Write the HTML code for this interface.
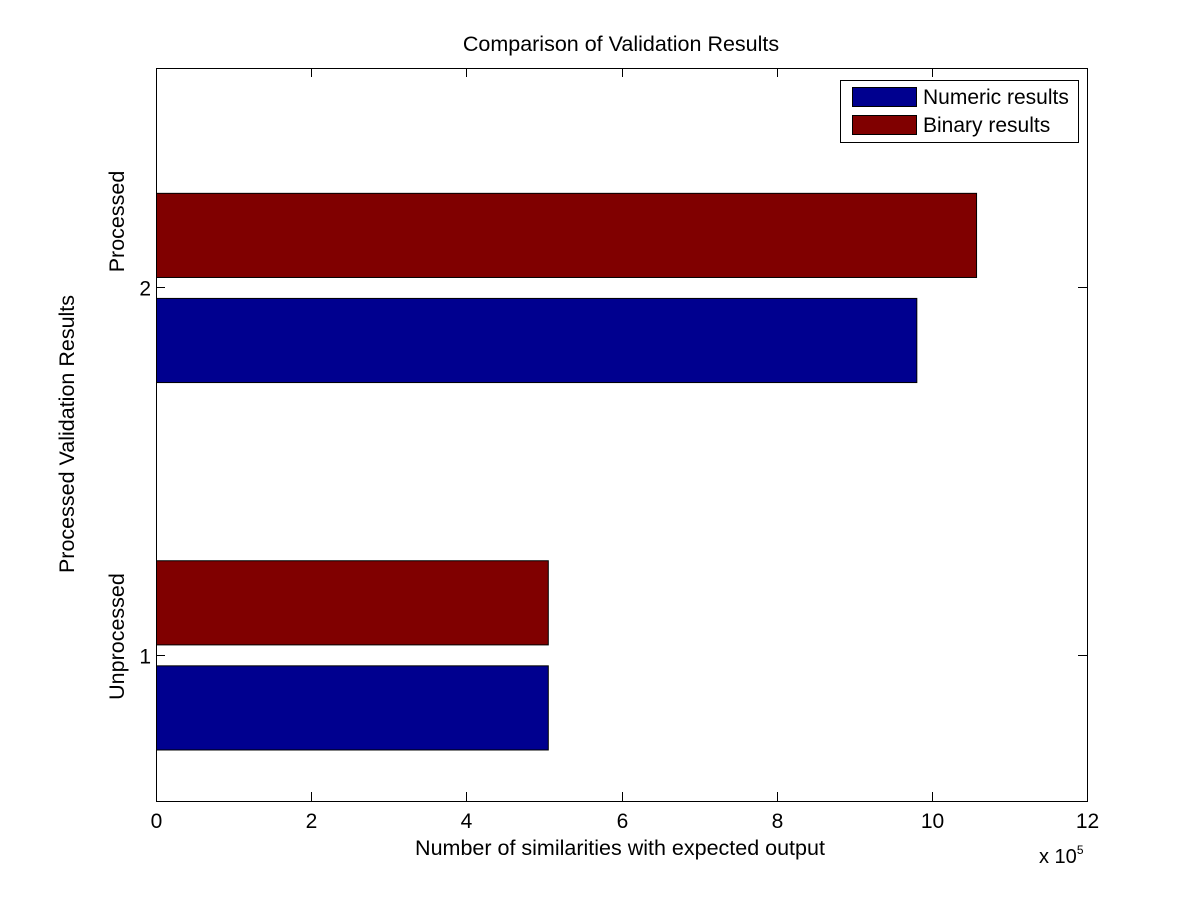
<!DOCTYPE html>
<html><head><meta charset="utf-8"><style>
body{margin:0;background:#fff;}
svg text{font-family:"Liberation Sans",Arial,sans-serif;fill:#000;}
</style></head><body>
<svg id="chart" width="1201" height="901" xmlns="http://www.w3.org/2000/svg">
<rect x="0" y="0" width="1201" height="901" fill="#fff"/>
<g id="plot"></g>
<text x="621" y="51" font-size="21.5" text-anchor="middle">Comparison of Validation Results</text>
<text x="620" y="855" font-size="21.5" text-anchor="middle">Number of similarities with expected output</text>
<text x="1039" y="863" font-size="20">x 10<tspan font-size="12" dy="-9">5</tspan></text>
<text transform="translate(74,434) rotate(-90)" font-size="21.5" text-anchor="middle">Processed Validation Results</text>
<g>
<rect x="840.5" y="80.5" width="238" height="62" fill="#fff" stroke="#000"/>
<rect x="852.5" y="87.5" width="64" height="19" fill="#00008f" stroke="#000"/>
<text x="923" y="104" font-size="21">Numeric results</text>
<rect x="852.5" y="115.5" width="64" height="19" fill="#800000" stroke="#000"/>
<text x="923" y="132" font-size="21">Binary results</text>
</g>
</svg>
<script>
const categories = [1, 2];
const categoryLabels = ["Unprocessed", "Processed"];
const numericValues = [5.05, 9.80];
const binaryValues = [5.05, 10.57];
const xTicks = [0, 2, 4, 6, 8, 10, 12];

const L=156, R=1087, T=68, B=801;
const xMin=0, xMax=12, yMin=0.605, yMax=2.6;
const xs = v => L + (v - xMin) / (xMax - xMin) * (R - L);
const ys = v => B - (v - yMin) / (yMax - yMin) * (B - T);
const NS="http://www.w3.org/2000/svg";
const g=document.getElementById('plot');
function mk(tag, attrs){const e=document.createElementNS(NS,tag);for(const k in attrs)e.setAttribute(k,attrs[k]);g.appendChild(e);return e;}

const labelShift = [-19, -66];
const barH=0.229, off=0.143;
categories.forEach((c,i)=>{
  const yb = ys(c - off), yr = ys(c + off), h = ys(0) - ys(barH);
  const b=mk('rect',{x:xs(0)+0.5,y:yb-h/2-0.5,width:xs(numericValues[i])-xs(0),height:h,fill:'#00008f',stroke:'#000'});
  
  
  const r=mk('rect',{x:xs(0)+0.5,y:yr-h/2-0.5,width:xs(binaryValues[i])-xs(0),height:h,fill:'#800000',stroke:'#000'});
  
  
  const y=Math.round(ys(c))-0.5;
  const t1=mk('line',{x1:L,y1:y,x2:L+9,y2:y,stroke:'#000'});
  
  
  const t2=mk('line',{x1:R-9,y1:y,x2:R,y2:y,stroke:'#000'});
  
  
  const tl=mk('text',{x:L-5,y:y+8,'font-size':21,'text-anchor':'end'});
  tl.textContent=String(c);
  
  
  const cl=mk('text',{transform:`translate(${L-32},${y+labelShift[i]}) rotate(-90)`,'font-size':21.5,'text-anchor':'middle'});
  cl.textContent=categoryLabels[i];
  
  
});
xTicks.forEach(v=>{
  const x=Math.round(xs(v))+0.5;
  const a=mk('line',{x1:x,y1:B,x2:x,y2:B-9,stroke:'#000'});
  
  
  const b=mk('line',{x1:x,y1:T,x2:x,y2:T+9,stroke:'#000'});
  
  
  const t=mk('text',{x:x,y:B+27,'font-size':21,'text-anchor':'middle'});
  t.textContent=String(v);
  
  
});
const frame=mk('rect',{x:L+0.5,y:T+0.5,width:R-L,height:B-T,fill:'none',stroke:'#000'});


</script>
</body></html>
